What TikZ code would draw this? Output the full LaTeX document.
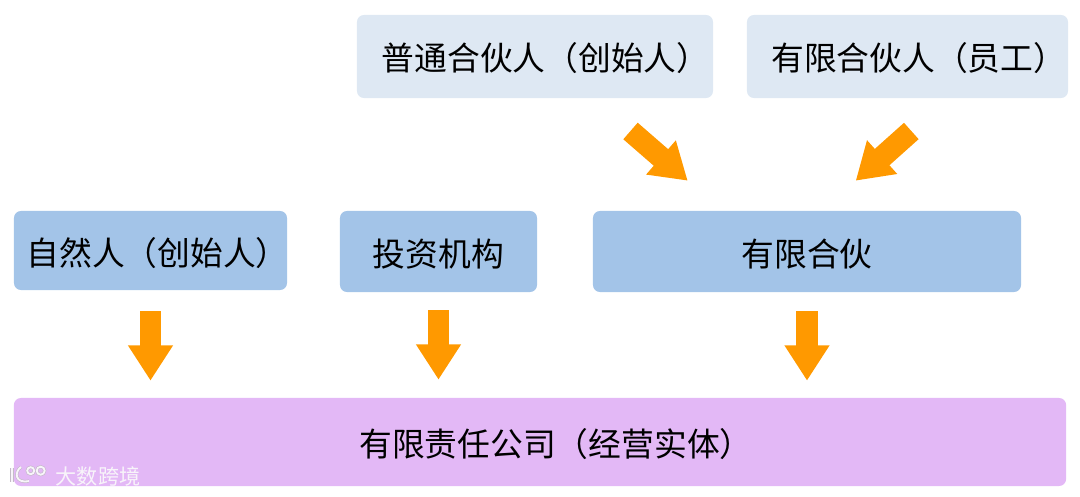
\documentclass[tikz,border=0pt]{standalone}
\usepackage{fontspec}
\setmainfont{Noto Sans CJK SC}
\usetikzlibrary{arrows.meta}

\definecolor{palebox}{HTML}{DEE8F3}
\definecolor{midbox}{HTML}{A3C4E8}
\definecolor{pinkbox}{HTML}{E3B8F6}
\definecolor{arroworange}{HTML}{FF9900}
\definecolor{markgray}{HTML}{F8F4FA}
\definecolor{markedge}{HTML}{C4BCC8}

\tikzset{
    box/.style={rounded corners=5pt, inner sep=0pt, text=black, font=\fontsize{23.3}{28}\selectfont, text height=24pt, text depth=3pt},
    topbox/.style={box, fill=palebox, minimum height=2.075cm, text height=22.5pt},
    midrow/.style={box, fill=midbox, minimum height=2.025cm},
    bigarrow/.style={draw=arroworange, line width=15.6pt, -{Triangle[width=30.4pt,length=25.2pt]}, arroworange},
    logoline/.style={draw=markedge, double=markgray, double distance=1.3pt, line width=0.45pt},
}

\begin{document}
\begin{tikzpicture}[x=0.025cm,y=-0.025cm]
    \useasboundingbox (0,0) rectangle (1080,497);

    % top row
    \node[topbox, minimum width=8.9cm] (founder) at (535,56.5) {\hspace*{15pt}普通合伙人（创始人）};
    \node[topbox, minimum width=8.025cm] (staff) at (907.5,56.5) {\hspace*{16pt}有限合伙人（员工）};

    % middle row
    \node[midrow, minimum width=6.825cm, minimum height=1.975cm, inner xsep=-4pt] (person) at (150.5,250.5) {\hspace*{10pt}自然人（创始人）};
    \node[midrow, minimum width=4.925cm] (fund) at (438.5,251.5) {投资机构};
    \node[midrow, minimum width=10.7cm] (partnership) at (807,251.5) {有限合伙};

    % bottom
    \node[box, fill=pinkbox, minimum width=26.3cm, minimum height=2.2cm] (company) at (540,442) {\hspace*{22.7pt}有限责任公司（经营实体）};

    % arrows
    \coordinate (founderout) at (630.5,131);
    \coordinate (founderin) at (687.7,180.7);
    \coordinate (staffout) at (911.3,131);
    \coordinate (staffin) at (855.7,180.7);
    \draw[bigarrow] (founderout) -- (founderin);
    \draw[bigarrow] (staffout) -- (staffin);
    \draw[bigarrow, shorten <=14.9pt, shorten >=12.1pt] (person.south) -- (person.south |- company.north);
    \draw[bigarrow, shorten <=12.8pt, shorten >=12.8pt] (fund.south) -- (fund.south |- company.north);
    \draw[bigarrow, shorten <=13.5pt, shorten >=12.1pt] (partnership.south) -- (partnership.south |- company.north);

    % watermark
    \node[text=markgray, font=\fontsize{15}{18}\selectfont, inner sep=0pt] (mark) at (98,476) {大数跨境};
    \draw[logoline] (12,468) -- (12,482);
    \draw[logoline] (21,467) .. controls (14,472) and (15,484) .. (29,481);
    \draw[logoline] (30.7,470.7) circle (3.5);
    \draw[logoline] (40.7,470.7) circle (4);
\end{tikzpicture}
\end{document}
